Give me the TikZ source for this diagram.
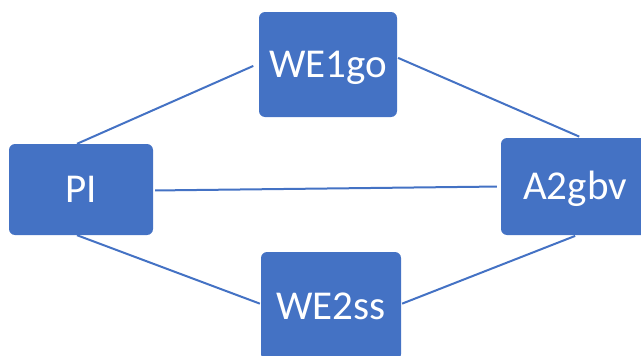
\documentclass[tikz,border=0pt]{standalone}
\usepackage{fontspec}
\setmainfont{Carlito}
\usepackage{tikz}
\usetikzlibrary{calc}
\definecolor{officeblue}{RGB}{68,114,196}

\begin{document}
\begin{tikzpicture}[x=1pt,y=-1pt,
    box/.style={fill=officeblue,rounded corners=6pt,text=white,inner sep=0pt,
      font=\fontsize{41}{48}\selectfont,text height=26pt,text depth=0pt},
    link/.style={officeblue,line width=2pt}]
  \useasboundingbox (0,0) rectangle (641,356);
  % boxes
  \node[box,minimum width=138pt,minimum height=105pt] (we1) at (328,64.5){WE1go};
  \node[box,minimum width=144pt,minimum height=91pt] (pi) at (81,189.5){PI};
  \node[box,minimum width=148pt,minimum height=97pt] (a2) at (575,186.5){A2gbv};
  \node[box,minimum width=140pt,minimum height=108pt] (we2) at (331,306){WE2ss};
  % links
  \draw[link,shorten >=6pt]([xshift=-4pt]pi.north)--([yshift=1pt]we1.west);
  \draw[link,shorten <=1pt,shorten >=3pt]([yshift=7pt]we1.east)--([xshift=7pt]a2.north);
  \draw[link,shorten <=2pt,shorten >=4pt]([yshift=-1pt]pi.east)--(a2.west);
  \draw[link,shorten >=1pt]([xshift=-4pt]pi.south)--([yshift=2pt]we2.west);
  \draw[link,shorten <=1pt,shorten >=2pt]([yshift=2pt]we2.east)--([xshift=2pt]a2.south);
\end{tikzpicture}
\end{document}
